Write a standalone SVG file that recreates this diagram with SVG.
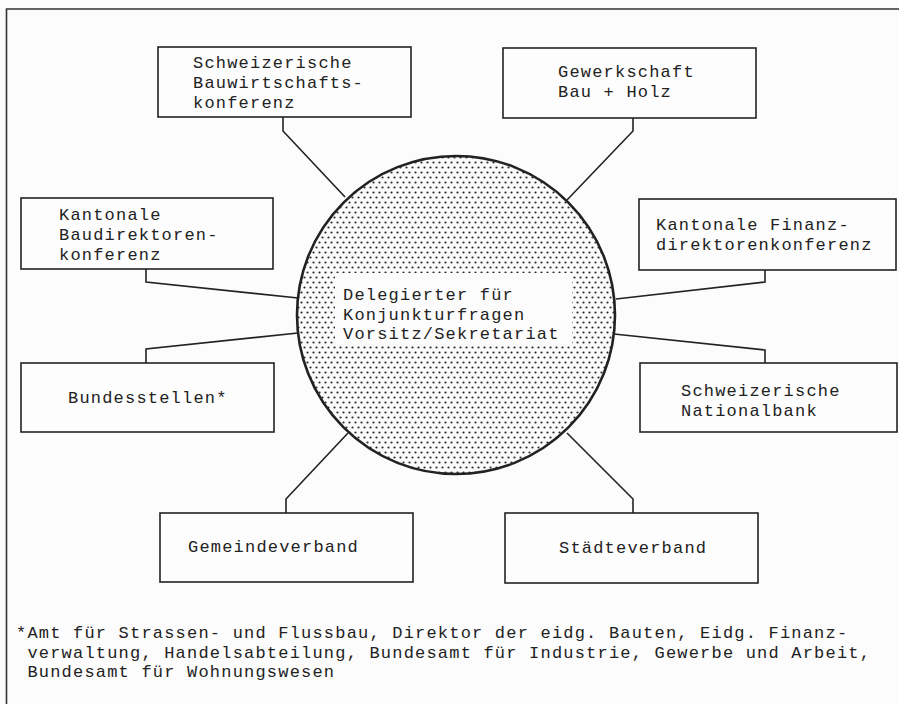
<svg xmlns="http://www.w3.org/2000/svg" width="899" height="704" viewBox="0 0 899 704">
<defs>
<pattern id="dots" width="6" height="10" patternUnits="userSpaceOnUse">
<rect width="6" height="10" fill="#fbfbfb"/>
<circle cx="1.5" cy="2.5" r="1.1" fill="#2a2a2a"/>
<circle cx="4.5" cy="7.5" r="1.1" fill="#2a2a2a"/>
</pattern>
</defs>
<style>
.box{fill:#fdfdfd;stroke:#222;stroke-width:1.6}
.t{font-family:"Liberation Mono","Courier New",monospace;font-size:17px;letter-spacing:1.2px;fill:#222}
.c{fill:none;stroke:#222;stroke-width:1.6}
</style>
<rect width="899" height="704" fill="#fcfcfc"/>
<path d="M6.5,704 V9 H899" fill="none" stroke="#333" stroke-width="1.6"/>
<g id="connectors">
<path class="c" d="M283,117 V131 L345,197"/>
<path class="c" d="M633,118 V131 L567,200"/>
<path class="c" d="M146,269 V282 L298,298"/>
<path class="c" d="M298,333 L146,349 V363"/>
<path class="c" d="M765,270 V282 L616,299"/>
<path class="c" d="M614,334 L765,350 V363"/>
<path class="c" d="M348,433 L286,499 V513"/>
<path class="c" d="M567,433 L633,499 V513"/>
</g>
<g id="center">
<circle cx="456" cy="315" r="159" fill="url(#dots)" stroke="#222" stroke-width="2.6"/>
<rect x="335" y="273" width="237" height="71" fill="#fcfcfc"/>
<text class="t" x="343" y="300">Delegierter für</text>
<text class="t" x="343" y="319.5">Konjunkturfragen</text>
<text class="t" x="343" y="339">Vorsitz/Sekretariat</text>
</g>
<g id="bauwirtschaft">
<rect class="box" x="158" y="47" width="253" height="70"/>
<text class="t" x="193" y="68">Schweizerische</text>
<text class="t" x="193" y="88">Bauwirtschafts-</text>
<text class="t" x="193" y="108">konferenz</text>
</g>
<g id="gewerkschaft">
<rect class="box" x="503" y="48" width="253" height="70"/>
<text class="t" x="558" y="77">Gewerkschaft</text>
<text class="t" x="558" y="97">Bau + Holz</text>
</g>
<g id="baudirektoren">
<rect class="box" x="21" y="198" width="252" height="71"/>
<text class="t" x="59" y="220">Kantonale</text>
<text class="t" x="59" y="240">Baudirektoren-</text>
<text class="t" x="59" y="260">konferenz</text>
</g>
<g id="finanzdirektoren">
<rect class="box" x="639" y="199" width="257" height="71"/>
<text class="t" x="656" y="230">Kantonale Finanz-</text>
<text class="t" x="656" y="250">direktorenkonferenz</text>
</g>
<g id="bundesstellen">
<rect class="box" x="21" y="363" width="253" height="69"/>
<text class="t" x="68" y="403">Bundesstellen*</text>
</g>
<g id="nationalbank">
<rect class="box" x="640" y="363" width="257" height="69"/>
<text class="t" x="681" y="396">Schweizerische</text>
<text class="t" x="681" y="415.5">Nationalbank</text>
</g>
<g id="gemeindeverband">
<rect class="box" x="160" y="513" width="253" height="69"/>
<text class="t" x="188" y="552">Gemeindeverband</text>
</g>
<g id="staedteverband">
<rect class="box" x="505" y="513" width="253" height="70"/>
<text class="t" x="559" y="553">Städteverband</text>
</g>
<g id="footnote">
<text class="t" x="16" y="638">*Amt für Strassen- und Flussbau, Direktor der eidg. Bauten, Eidg. Finanz-</text>
<text class="t" x="16" y="657.5" xml:space="preserve"> verwaltung, Handelsabteilung, Bundesamt für Industrie, Gewerbe und Arbeit,</text>
<text class="t" x="16" y="677" xml:space="preserve"> Bundesamt für Wohnungswesen</text>
</g>
</svg>
